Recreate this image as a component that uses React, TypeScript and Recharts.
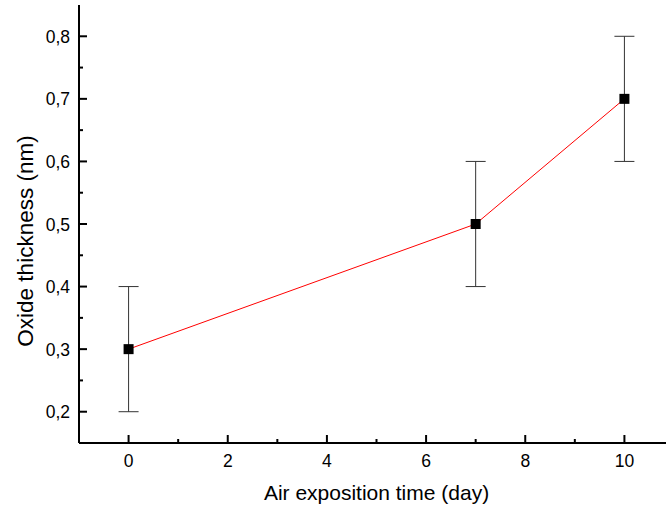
import { LineChart, Line, XAxis, YAxis, ErrorBar } from 'recharts'

// measured points: air exposition time (day) vs oxide thickness (nm)
const days = [0, 7, 10]
const thickness = [0.3, 0.5, 0.7]
const errors = [0.1, 0.1, 0.1]

const xTicks = [0, 1, 2, 3, 4, 5, 6, 7, 8, 9, 10]
const yTicks = [0.2, 0.25, 0.3, 0.35, 0.4, 0.45, 0.5, 0.55, 0.6, 0.65, 0.7, 0.75, 0.8]

const data = days.map((d, i) => ({ day: d, value: thickness[i], err: errors[i] }))

const FONT = '"Liberation Sans", Arial, sans-serif'

function XTick(props: any) {
  const { x, y, payload } = props
  const major = payload.value % 2 === 0
  return (
    <g>
      <line x1={x} y1={y} x2={x} y2={y - (major ? 8 : 4)} stroke="#000" strokeWidth={2} />
      {major && (
        <text x={x} y={y + 24} textAnchor="middle" fontSize={17.5} fontFamily={FONT} fill="#000">
          {payload.value}
        </text>
      )}
    </g>
  )
}

function YTick(props: any) {
  const { x, y, payload } = props
  const major = Math.round(payload.value * 100) % 10 === 0
  return (
    <g>
      <line x1={x} y1={y} x2={x + (major ? 8 : 4)} y2={y} stroke="#000" strokeWidth={2} />
      {major && (
        <text x={x - 9} y={y + 6.5} textAnchor="end" fontSize={17.5} fontFamily={FONT} fill="#000">
          {payload.value.toFixed(1).replace('.', ',')}
        </text>
      )}
    </g>
  )
}

function Square(props: any) {
  const { cx, cy, index } = props
  return <rect key={index} x={cx - 5} y={cy - 5} width={10} height={10} fill="#000" />
}

export default function App() {
  return (
    <div style={{ position: 'fixed', left: 0, top: 0, width: 666, height: 510, overflow: 'hidden', background: '#fff' }}>
      <LineChart width={700} height={510} data={data} margin={{ top: 5, right: 26, bottom: 0, left: 0 }}>
        <XAxis
          dataKey="day" type="number" domain={[-1, 11]} ticks={xTicks} allowDataOverflow
          height={67} tickSize={0} tickMargin={0} tick={<XTick />}
          axisLine={{ stroke: '#000', strokeWidth: 2 }}
          label={{
            content: (p: any) => (
              <text
                x={p.viewBox.x + p.viewBox.width / 2} y={p.viewBox.y + 57}
                textAnchor="middle" fontSize={21} fontFamily={FONT} fill="#000"
              >
                Air exposition time (day)
              </text>
            ),
          }}
        />
        <XAxis
          xAxisId="top" orientation="top" dataKey="day" type="number" domain={[-1, 11]}
          height={0} tick={false} tickLine={false} axisLine={{ stroke: '#000', strokeWidth: 2 }}
        />
        <YAxis
          type="number" domain={[0.15, 0.85]} ticks={yTicks} allowDataOverflow
          width={79} tickSize={0} tickMargin={0} tick={<YTick />}
          axisLine={{ stroke: '#000', strokeWidth: 2 }}
          label={{
            content: (p: any) => {
              const cx = p.viewBox.x + 33
              const cy = p.viewBox.y + p.viewBox.height / 2 + 17
              return (
                <text
                  x={cx} y={cy} transform={`rotate(-90 ${cx} ${cy})`}
                  textAnchor="middle" fontSize={22.5} fontFamily={FONT} fill="#000"
                >
                  Oxide thickness (nm)
                </text>
              )
            },
          }}
        />
        <Line
          dataKey="value" stroke="#ff0000" strokeWidth={1} dot={<Square />} activeDot={false}
          isAnimationActive={false}
        >
          <ErrorBar dataKey="err" direction="y" width={10} stroke="#333" strokeWidth={1} />
        </Line>
      </LineChart>
    </div>
  )
}
